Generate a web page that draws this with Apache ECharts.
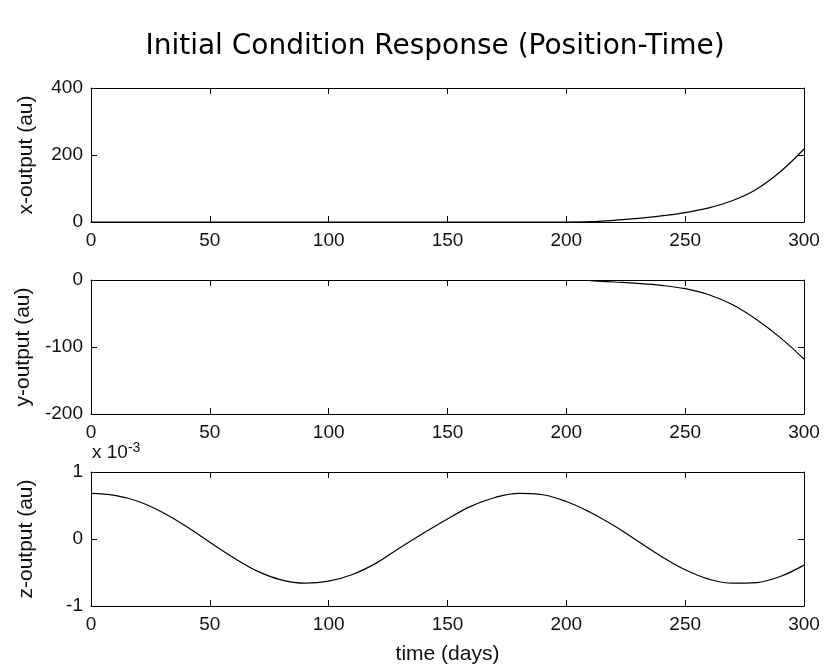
<!DOCTYPE html>
<html>
<head>
<meta charset="utf-8">
<script src="https://cdn.jsdelivr.net/npm/echarts@6/dist/echarts.min.js"></script>
<style>html,body{margin:0;padding:0;background:#fff}#c{width:824px;height:670px}</style>
</head>
<body>
<div id="c"></div>
<script>
// ---- data ----
const titleText = 'Initial Condition Response (Position-Time)';
const xTicks = [0, 50, 100, 150, 200, 250, 300];
const xDays = [0,10,20,30,40,50,60,70,80,90,100,110,120,130,140,150,160,170,180,190,200,210,220,230,240,250,260,270,280,290,300];
const xOutput = [0,0,0,0,0,0,0,0,0,0,0,0,0,0,0,0,0,0,0,0,0,1,5,11,18,28,42,64,98,150,218];
const yDays = [210,220,230,240,250,260,270,280,290,300];
const yOutput = [-1,-3,-5,-8,-13,-22,-37,-59,-86,-118];
const zDays = xDays;
const zOutput = [0.68e-3,0.65e-3,0.56e-3,0.40e-3,0.19e-3,-0.05e-3,-0.28e-3,-0.48e-3,-0.61e-3,-0.66e-3,
  -0.63e-3,-0.53e-3,-0.36e-3,-0.13e-3,0.09e-3,0.30e-3,0.49e-3,0.62e-3,0.68e-3,0.66e-3,
  0.56e-3,0.40e-3,0.20e-3,-0.03e-3,-0.26e-3,-0.46e-3,-0.60e-3,-0.66e-3,-0.65e-3,-0.56e-3,-0.39e-3];
const yRanges = [
  {name: 'x-output (au)', min: 0, max: 400, interval: 200},
  {name: 'y-output (au)', min: -200, max: 0, interval: 100},
  {name: 'z-output (au)', min: -0.001, max: 0.001, interval: 0.001}
];
const xLabel = 'time (days)';

const font = 'Liberation Sans, Arial, Helvetica, sans-serif';
const ink = '#111';
const tops = [88, 280, 472];
const grid = tops.map(t => ({left: 91, right: 20, top: t, height: 134}));
const axLine = {show: true, onZero: false, lineStyle: {color: '#000', width: 1}};
const tick = {show: true, inside: true, length: 6, lineStyle: {color: '#000', width: 1}};

const xAxis = [], yAxis = [], series = [];
const seriesData = [
  xDays.map((d, i) => [d, xOutput[i]]),
  yDays.map((d, i) => [d, yOutput[i]]),
  zDays.map((d, i) => [d, zOutput[i]])
];
for (let g = 0; g < 3; g++) {
  xAxis.push({
    type: 'value', gridIndex: g, position: 'bottom', min: 0, max: 300, interval: 50,
    axisLine: axLine, axisTick: tick, splitLine: {show: false},
    axisLabel: {color: ink, fontFamily: font, fontSize: 19, margin: 9},
    name: g === 2 ? xLabel : '', nameLocation: 'middle', nameGap: 38,
    nameTextStyle: {color: ink, fontFamily: font, fontSize: 21}
  });
  xAxis.push({
    type: 'value', gridIndex: g, position: 'top', min: 0, max: 300, interval: 50,
    axisLine: axLine, axisTick: tick, splitLine: {show: false}, axisLabel: {show: false}
  });
  const r = yRanges[g];
  const fmt = g === 2 ? (v => String(Math.round(v * 1000))) : (v => String(v));
  yAxis.push({
    type: 'value', gridIndex: g, position: 'left', min: r.min, max: r.max, interval: r.interval,
    axisLine: axLine, axisTick: tick, splitLine: {show: false},
    axisLabel: {color: ink, fontFamily: font, fontSize: 19, margin: 8, formatter: fmt},
    name: r.name, nameLocation: 'middle', nameGap: 54, nameRotate: 90,
    nameTextStyle: {color: ink, fontFamily: font, fontSize: 21}
  });
  yAxis.push({
    type: 'value', gridIndex: g, position: 'right', min: r.min, max: r.max, interval: r.interval,
    axisLine: axLine, axisTick: tick, splitLine: {show: false}, axisLabel: {show: false}
  });
  series.push({
    type: 'line', xAxisIndex: g * 2, yAxisIndex: g * 2, data: seriesData[g],
    showSymbol: false, smooth: 0.4, clip: true,
    lineStyle: {color: '#000', width: 1.2}
  });
}

const chart = echarts.init(document.getElementById('c'), null, {renderer: 'canvas'});
chart.setOption({
  animation: false,
  backgroundColor: '#fff',
  title: {text: titleText, left: 430, top: 28, textAlign: 'center',
    textStyle: {color: '#000', fontFamily: 'DejaVu Sans, sans-serif', fontSize: 28, fontWeight: 'normal'}},
  grid, xAxis, yAxis, series,
  graphic: [{
    type: 'text', left: 92, top: 441,
    style: {
      text: 'x 10{s|-3}', fill: ink, font: '19px ' + font,
      rich: {s: {fontSize: 14, fontFamily: font, fill: ink, verticalAlign: 'top', padding: [0, 0, 10, 0]}}
    }
  }]
});
</script>
</body>
</html>
